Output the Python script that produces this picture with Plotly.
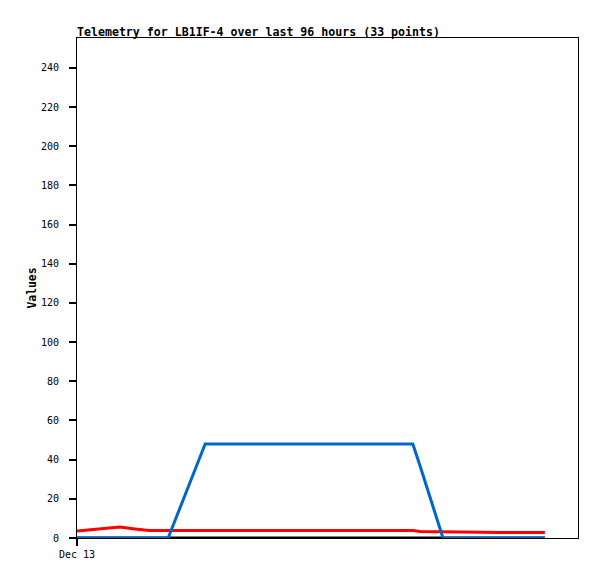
import plotly.graph_objects as go

hours = [0, 2.9, 6.0, 8.8, 11.9, 14.8, 18.7, 22.5, 26.3, 29.3, 32.4, 35.5, 38.6,
         41.6, 44.7, 47.8, 50.9, 54.0, 57.0, 60.1, 63.2, 66.3, 68.9, 70.4, 73.6,
         75.1, 78.0, 81.0, 84.1, 87.0, 90.0, 92.9, 96.0]
black_vals = [0] * 33
red_vals = [3.6, 4.2, 4.9, 5.6, 4.6, 3.8, 3.8, 3.8, 3.8, 3.8, 3.8, 3.8, 3.8,
            3.8, 3.8, 3.8, 3.8, 3.8, 3.8, 3.8, 3.8, 3.8, 3.8, 3.3, 3.2,
            2.8, 2.8, 2.8, 2.8, 2.8, 2.8, 2.8, 2.8]
blue_vals = [0, 0, 0, 0, 0, 0, 0, 24, 48, 48, 48, 48, 48,
             48, 48, 48, 48, 48, 48, 48, 48, 48, 48, 36.8, 11.2,
             0, 0, 0, 0, 0, 0, 0, 0]
x_tick_vals = [0]
x_tick_text = ["Dec 13"]
y_tick_vals = list(range(0, 241, 20))

fig = go.Figure()
fig.add_trace(go.Scatter(x=hours, y=black_vals, mode="lines",
                         line=dict(color="#000000", width=3), hoverinfo="skip"))
fig.add_trace(go.Scatter(x=hours, y=red_vals, mode="lines",
                         line=dict(color="#ff0000", width=3), hoverinfo="skip"))
fig.add_trace(go.Scatter(x=hours, y=blue_vals, mode="lines",
                         line=dict(color="#0066cc", width=3), hoverinfo="skip"))

mono = "DejaVu Sans Mono"
fig.update_layout(
    width=589, height=571,
    margin=dict(l=69, r=19, t=30, b=41),
    paper_bgcolor="white", plot_bgcolor="white",
    showlegend=False,
    font=dict(family=mono, size=10, color="#000000"),
    title=dict(text="<b>Telemetry for LB1IF-4 over last 96 hours (33 points)</b>",
               x=0, xref="paper", xanchor="left",
               y=1, yref="paper", yanchor="bottom", pad=dict(b=2, l=0),
               font=dict(family=mono, size=11.6, color="#000000")),
    xaxis=dict(range=[0, 102.8], tickvals=x_tick_vals, ticktext=x_tick_text,
               showgrid=False, zeroline=False, showline=True, linecolor="#000000",
               linewidth=1, mirror=True, ticks="outside", ticklen=7, tickwidth=1.5,
               tickcolor="#000000",
               tickfont=dict(family=mono, size=10)),
    yaxis=dict(range=[0, 255.3], tickvals=y_tick_vals,
               showgrid=False, zeroline=False, showline=True, linecolor="#000000",
               linewidth=1, mirror=True, ticks="outside", ticklen=7, tickwidth=1.5,
               tickcolor="#000000", ticklabelstandoff=8,
               tickfont=dict(family=mono, size=10),
               title=dict(text="<b>Values</b>", standoff=1,
                          font=dict(family=mono, size=11.4))),
)
fig.write_html("out.html")
